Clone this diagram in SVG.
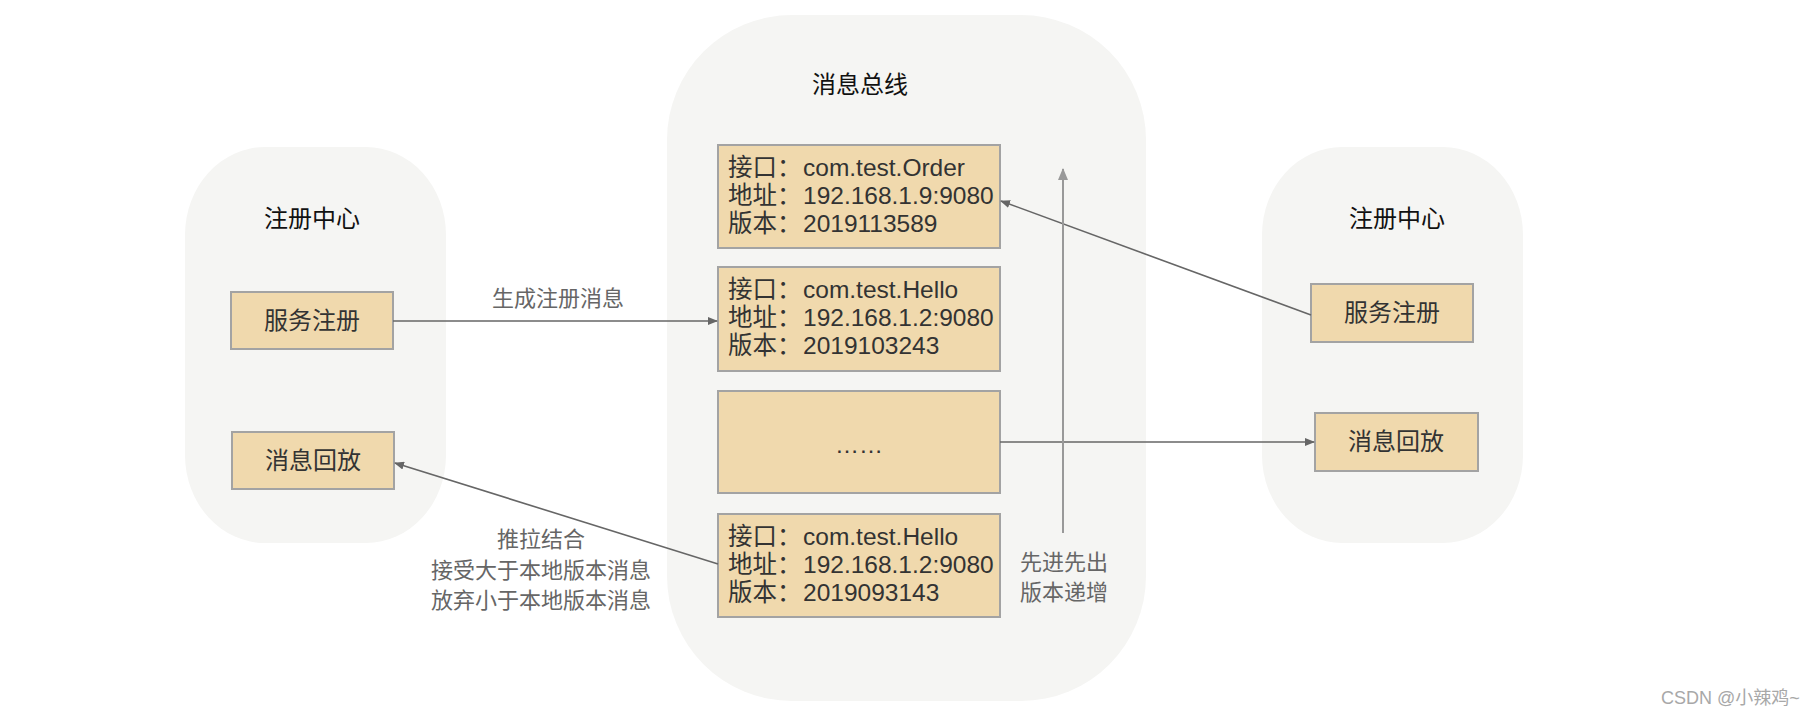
<svg xmlns="http://www.w3.org/2000/svg" width="1818" height="716" viewBox="0 0 1818 716">
<style>
.cont{fill:#f5f5f3;}
.box{fill:#f0d9ad;stroke:#a3a3a3;stroke-width:2;}
.t{font-family:"Liberation Sans","Noto Sans CJK SC",sans-serif;}
.title{font-size:24px;fill:#111;text-anchor:middle;}
.bt{font-size:24px;fill:#333;text-anchor:middle;}
.mt{font-size:24.5px;fill:#333;}
.lbl{font-size:22px;fill:#666;}
.edge{stroke:#666;stroke-width:1.6;fill:none;}
.edge2{stroke:#999;stroke-width:2;fill:none;}
</style>
<defs>
<marker id="ah" markerWidth="10" markerHeight="8" refX="9" refY="4" orient="auto" markerUnits="userSpaceOnUse">
<path d="M0,0 L10,4 L0,8 Z" fill="#666"/>
</marker>
<marker id="ah2" markerWidth="12" markerHeight="10" refX="11" refY="5" orient="auto" markerUnits="userSpaceOnUse">
<path d="M0,0 L12,5 L0,10 Z" fill="#999"/>
</marker>
</defs>
<rect width="1818" height="716" fill="#ffffff"/>

<g id="left-center">
<rect class="cont" x="185" y="147" width="261" height="396" rx="80" ry="88"/>
<text class="t title" x="312" y="227">注册中心</text>
</g>
<g id="left-register">
<rect class="box" x="231" y="292" width="162" height="57"/>
<text class="t bt" x="312" y="329">服务注册</text>
</g>
<g id="left-replay">
<rect class="box" x="232" y="432" width="162" height="57"/>
<text class="t bt" x="313" y="469">消息回放</text>
</g>

<g id="bus">
<rect class="cont" x="667" y="15" width="479" height="686" rx="125" ry="125"/>
<text class="t title" x="860" y="93">消息总线</text>
</g>
<g id="msg1">
<rect class="box" x="718" y="145" width="282" height="103"/>
<text class="t mt" y="176"><tspan x="728">接口：</tspan><tspan x="803">com.test.Order</tspan></text>
<text class="t mt" y="204"><tspan x="728">地址：</tspan><tspan x="803">192.168.1.9:9080</tspan></text>
<text class="t mt" y="232"><tspan x="728">版本：</tspan><tspan x="803">2019113589</tspan></text>
</g>
<g id="msg2">
<rect class="box" x="718" y="267" width="282" height="104"/>
<text class="t mt" y="298"><tspan x="728">接口：</tspan><tspan x="803">com.test.Hello</tspan></text>
<text class="t mt" y="326"><tspan x="728">地址：</tspan><tspan x="803">192.168.1.2:9080</tspan></text>
<text class="t mt" y="354"><tspan x="728">版本：</tspan><tspan x="803">2019103243</tspan></text>
</g>
<g id="msg3">
<rect class="box" x="718" y="391" width="282" height="102"/>
<text class="t bt" x="859" y="453">……</text>
</g>
<g id="msg4">
<rect class="box" x="718" y="514" width="282" height="103"/>
<text class="t mt" y="545"><tspan x="728">接口：</tspan><tspan x="803">com.test.Hello</tspan></text>
<text class="t mt" y="573"><tspan x="728">地址：</tspan><tspan x="803">192.168.1.2:9080</tspan></text>
<text class="t mt" y="601"><tspan x="728">版本：</tspan><tspan x="803">2019093143</tspan></text>
</g>

<g id="right-center">
<rect class="cont" x="1262" y="147" width="261" height="396" rx="80" ry="88"/>
<text class="t title" x="1397" y="227">注册中心</text>
</g>
<g id="right-register">
<rect class="box" x="1311" y="284" width="162" height="58"/>
<text class="t bt" x="1392" y="321">服务注册</text>
</g>
<g id="right-replay">
<rect class="box" x="1315" y="413" width="163" height="58"/>
<text class="t bt" x="1396" y="450">消息回放</text>
</g>

<g id="connectors">
<line class="edge" x1="393" y1="321" x2="717" y2="321" marker-end="url(#ah)"/>
<line class="edge" x1="718" y1="564" x2="395" y2="463" marker-end="url(#ah)"/>
<line class="edge" x1="1311" y1="315" x2="1001" y2="201" marker-end="url(#ah)"/>
<line class="edge" x1="1000" y1="442" x2="1314" y2="442" marker-end="url(#ah)"/>
<line class="edge2" x1="1063" y1="533" x2="1063" y2="169" marker-end="url(#ah2)"/>
<text class="t lbl" x="558" y="306" text-anchor="middle">生成注册消息</text>
<text class="t lbl" x="541" y="547" text-anchor="middle">推拉结合</text>
<text class="t lbl" x="541" y="578" text-anchor="middle">接受大于本地版本消息</text>
<text class="t lbl" x="541" y="608" text-anchor="middle">放弃小于本地版本消息</text>
<text class="t lbl" x="1020" y="570">先进先出</text>
<text class="t lbl" x="1020" y="600">版本递增</text>
</g>

<text class="t" x="1661" y="704" font-size="18" fill="#a8a8a8">CSDN @小辣鸡~</text>
</svg>
